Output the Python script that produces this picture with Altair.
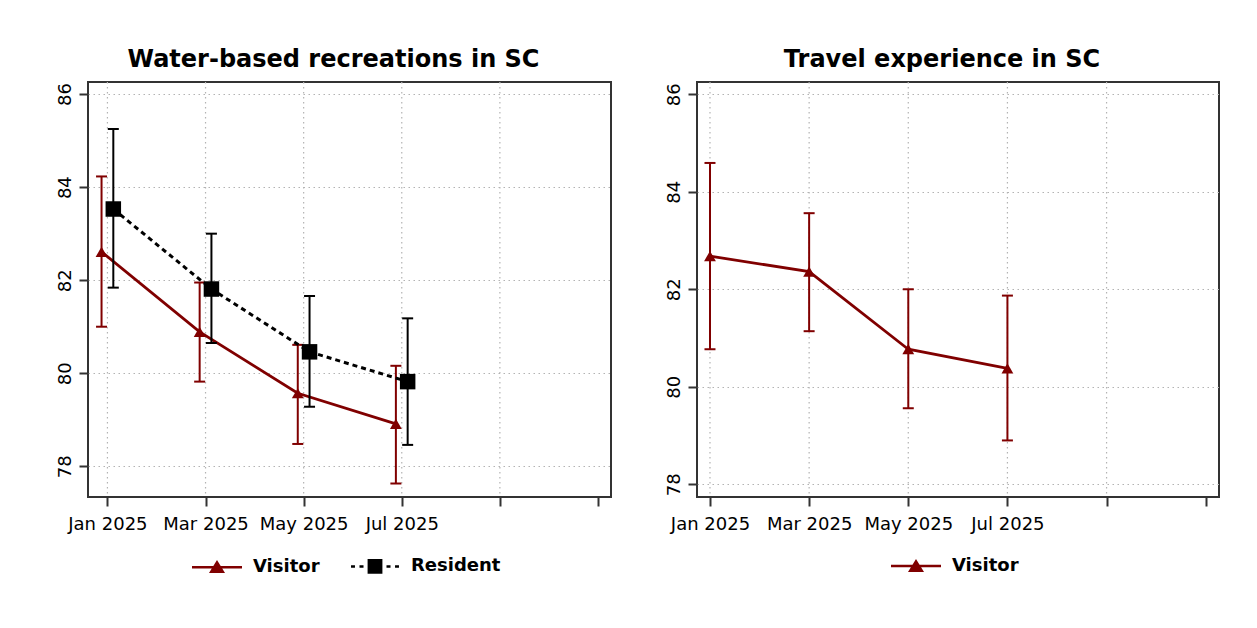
import json
import altair as alt
import pandas as pd

# ---------------- data ----------------
months = [0, 2, 4, 6]                       # months since Jan 2025
tick_months = [0, 2, 4, 6, 8, 10]
tick_labels = ["Jan 2025", "Mar 2025", "May 2025", "Jul 2025", "", ""]
grid_months = [0, 2, 4, 6, 8]
y_ticks = [78, 80, 82, 84, 86]

wb_visitor_mean = [82.61, 80.89, 79.57, 78.91]
wb_visitor_lo = [81.00, 79.82, 78.48, 77.63]
wb_visitor_hi = [84.23, 81.95, 80.61, 80.16]

wb_resident_mean = [83.53, 81.81, 80.46, 79.82]
wb_resident_lo = [81.84, 80.65, 79.28, 78.46]
wb_resident_hi = [85.25, 83.00, 81.66, 81.18]

te_visitor_mean = [82.68, 82.36, 80.77, 80.38]
te_visitor_lo = [80.77, 81.14, 79.56, 78.90]
te_visitor_hi = [84.59, 83.56, 82.00, 81.87]

# ---------------- styles ----------------
RED = "#800000"
FONT = "DejaVu Sans"
GRID = "#b3b3b3"

STYLE = {
    "Visitor": dict(color=RED, shape="triangle-up", size=140, dash=None, width=2.8,
                    offset=-0.12,
                    legend_path="M-4.545,0L4.545,0M0,-0.85L-1.05,0.85L1.05,0.85Z"),
    "Resident": dict(color="black", shape="square", size=240, dash=[5, 4], width=3,
                     offset=0.12,
                     legend_path=("M-4.36,0L-3.64,0M-2.82,0L-2.09,0M2.09,0L2.82,0"
                                  "M3.64,0L4.36,0M-1.12,-1.12L1.12,-1.12L1.12,1.12L-1.12,1.12Z")),
}


def series_df(name, mean, lo, hi):
    return pd.DataFrame({"month": months, "series": name, "mean": mean, "lo": lo, "hi": hi})


def panel(title, frames, xdomain, ydomain, width, height, jitter, legend_x, legend_y):
    df = pd.concat(frames, ignore_index=True)
    names = list(dict.fromkeys(df["series"]))
    label_expr = f"{json.dumps(tick_labels)}[indexof({json.dumps(tick_months)}, datum.value)]"

    def X(field):
        return alt.X(f"{field}:Q", title=None,
                     scale=alt.Scale(domain=xdomain, nice=False, zero=False),
                     axis=alt.Axis(values=tick_months, labelExpr=label_expr, grid=False,
                                   labelFlush=False, labelOverlap=False, labelPadding=9))

    def Y(field):
        return alt.Y(f"{field}:Q", title=None,
                     scale=alt.Scale(domain=ydomain, nice=False, zero=False),
                     axis=alt.Axis(values=y_ticks, labelAngle=270, labelAlign="center",
                                   labelBaseline="bottom", labelPadding=5, grid=True))

    layers = [
        alt.Chart(pd.DataFrame({"g": grid_months}))
        .mark_rule(color=GRID, strokeDash=[1.5, 3.5], strokeWidth=1.2)
        .encode(x=X("g"))
    ]

    for name in names:
        s = STYLE[name]
        base = (alt.Chart(df)
                .transform_filter(alt.datum.series == name)
                .transform_calculate(xpos=f"datum.month + {s['offset'] * jitter}"))
        layers.append(base.mark_rule(color=s["color"], strokeWidth=2)
                      .encode(x=X("xpos"), y=Y("lo"), y2="hi:Q"))
        for f in ("lo", "hi"):
            layers.append(base.mark_tick(color=s["color"], orient="horizontal", size=11,
                                         thickness=2, opacity=1)
                          .encode(x=X("xpos"), y=Y(f)))
        line_kw = dict(color=s["color"], strokeWidth=s["width"])
        if s["dash"]:
            line_kw["strokeDash"] = s["dash"]
        layers.append(base.mark_line(**line_kw).encode(x=X("xpos"), y=Y("mean")))
        layers.append(base.mark_point(shape=s["shape"], filled=True, size=s["size"],
                                      color=s["color"], opacity=1)
                      .encode(x=X("xpos"), y=Y("mean")))

    # legend carried by an empty layer
    colors = [STYLE[n]["color"] for n in names]
    paths = [STYLE[n]["legend_path"] for n in names]
    lkw = dict(orient="none", legendX=legend_x, legendY=legend_y, direction="horizontal",
               title=None, labelFont=FONT, labelFontSize=18, labelFontWeight="bold",
               labelColor="black", symbolSize=121, symbolStrokeWidth=2.5, labelOffset=27,
               columnPadding=26, padding=0, symbolOpacity=1)
    leg = (alt.Chart(pd.DataFrame({"series": names}))
           .transform_filter("false")
           .mark_point(filled=True, opacity=1)
           .encode(
               fill=alt.Fill("series:N", scale=alt.Scale(domain=names, range=colors),
                             legend=alt.Legend(**lkw)),
               stroke=alt.Stroke("series:N", scale=alt.Scale(domain=names, range=colors),
                                 legend=alt.Legend(**lkw)),
               shape=alt.Shape("series:N", scale=alt.Scale(domain=names, range=paths),
                               legend=alt.Legend(**lkw)),
           ))
    layers.append(leg)

    return alt.layer(*layers).properties(
        width=width, height=height,
        title=alt.TitleParams(title, anchor="middle", frame="bounds"),
    )


left = panel(
    "Water-based recreations in SC",
    [series_df("Visitor", wb_visitor_mean, wb_visitor_lo, wb_visitor_hi),
     series_df("Resident", wb_resident_mean, wb_resident_lo, wb_resident_hi)],
    xdomain=[-0.396, 10.265], ydomain=[77.34, 86.26], width=523, height=415,
    jitter=1, legend_x=120, legend_y=475,
)

right = panel(
    "Travel experience in SC",
    [series_df("Visitor", te_visitor_mean, te_visitor_lo, te_visitor_hi)],
    xdomain=[-0.262, 10.268], ydomain=[77.74, 86.25], width=522, height=415,
    jitter=0, legend_x=210, legend_y=475,
)

chart = (
    alt.hconcat(left, right, spacing=52)
    .resolve_scale(fill="independent", stroke="independent", shape="independent")
    .resolve_legend(fill="independent", stroke="independent", shape="independent")
    .properties(padding={"left": 47, "top": 39, "right": 5, "bottom": 5})
    .configure_view(stroke="#333333", strokeWidth=2)
    .configure_axis(labelFont=FONT, labelFontSize=18, labelColor="black",
                    tickColor="#333333", tickWidth=2, tickSize=9, domain=False,
                    gridColor=GRID, gridDash=[1.5, 3.5], gridWidth=1.2)
    .configure_title(font=FONT, fontSize=24, fontWeight="bold", color="black",
                     baseline="alphabetic", offset=9)
)

chart.save("out.html", embed_options={"renderer": "svg", "actions": False})
